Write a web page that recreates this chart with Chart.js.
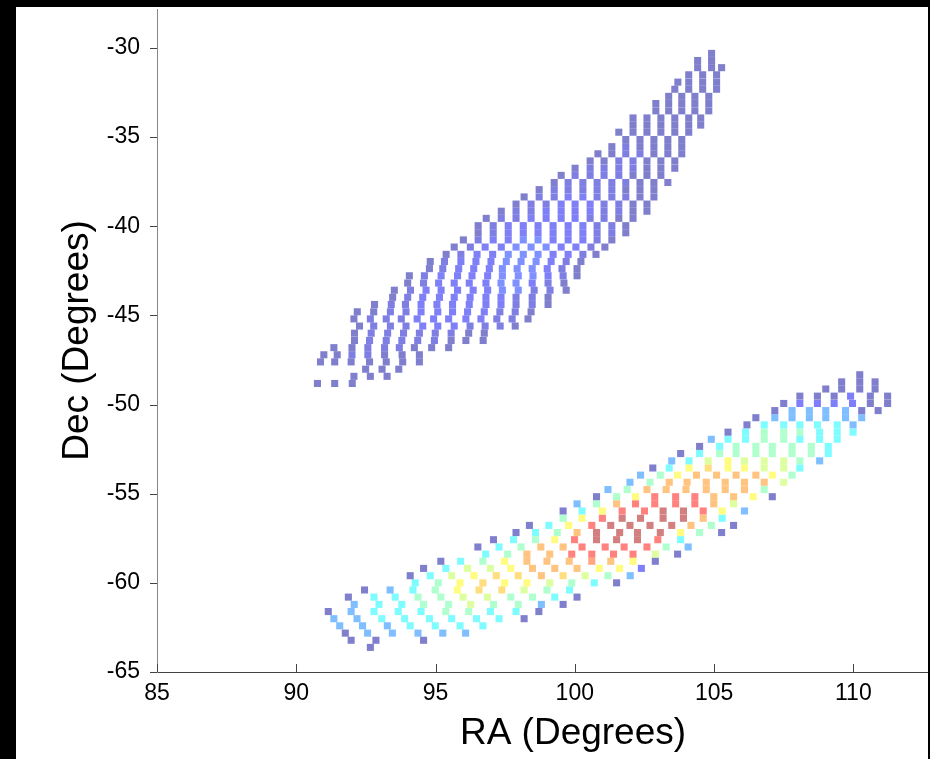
<!DOCTYPE html>
<html><head><meta charset="utf-8">
<script src="https://cdn.jsdelivr.net/npm/chart.js@4.4.1/dist/chart.umd.min.js"></script>
<style>html,body{margin:0;padding:0;background:#000;overflow:hidden;width:930px;height:759px}canvas{display:block}</style>
</head><body><canvas id="c" width="994" height="759"></canvas>
<script>
// ---- tick labels ----
const xTicks=[85,90,95,100,105,110];
const yTicks=[-65,-60,-55,-50,-45,-40,-35,-30];
const xTitle='RA (Degrees)';
const yTitle='Dec (Degrees)';

// ---- lower field (rows of constant Dec) ----
const botDec=[-63.62,-63.22,-62.82,-62.41,-62.01,-61.61,-61.21,-60.80,-60.40,-60.00,-59.60,-59.19,-58.79,-58.39,-57.99,-57.58,-57.18,-56.78,-56.38,-55.97,-55.57,-55.17,-54.77,-54.36,-53.96,-53.56,-53.16,-52.75,-52.35,-51.95,-51.55,-51.14,-50.74,-50.34,-49.94,-49.53,-49.13,-48.73,-48.33];
const botRA=[
[92.66],
[91.97,92.86,94.57],
[91.76,92.56,93.45,94.37,95.26,96.08],
[91.56,92.38,93.27,94.09,94.99,95.88,96.70],
[91.35,92.18,93.07,93.89,94.78,95.58,96.47,97.28,98.18],
[91.15,91.97,92.79,93.66,94.48,95.37,96.19,96.97,97.89,98.71],
[92.08,92.97,93.79,94.57,95.47,96.26,97.08,97.97,98.80,99.58],
[91.87,92.79,93.55,94.37,95.19,95.99,96.86,97.70,98.48,99.28,100.08],
[92.45,93.37,94.19,94.99,95.78,96.56,97.38,98.18,99.00,99.81],
[94.27,95.10,95.88,96.70,97.48,98.28,99.10,99.89,100.70,101.50],
[94.09,94.81,95.58,96.38,97.18,97.97,98.80,99.58,100.37,101.19,101.99],
[94.57,95.37,96.15,96.97,97.70,98.48,99.28,100.08,100.88,101.61,102.39],
[95.19,95.90,96.70,97.48,98.28,99.00,99.80,100.61,101.29,102.09,102.89],
[96.80,97.59,98.28,99.10,99.89,100.61,101.39,102.09,102.89,103.69],
[96.52,97.28,98.07,98.78,99.58,100.26,101.09,101.77,102.59,103.28,104.07],
[97.08,97.80,98.59,99.28,99.99,100.78,101.50,102.25,102.98,103.80],
[97.89,98.59,99.37,100.08,100.78,101.61,102.25,103.07,103.80,104.48,105.27],
[98.37,99.07,99.78,100.61,101.29,101.98,102.70,103.48,104.17,104.90,105.70],
[99.58,100.26,100.99,101.70,102.36,103.17,103.90,104.61,105.29],
[99.58,100.26,100.99,101.70,102.50,103.17,103.90,104.61,105.29,106.09],
[100.08,100.78,101.50,102.18,102.87,103.62,104.31,104.99,105.70],
[100.78,101.50,102.18,102.87,103.62,104.31,104.99,105.70,106.40,107.09],
[101.19,101.88,102.59,103.28,103.99,104.72,105.40,106.09,106.80],
[101.98,102.70,103.39,104.03,104.72,105.40,106.09,106.80,107.50],
[102.36,103.07,103.69,104.37,105.09,105.79,106.50,107.09,107.80],
[102.80,103.39,104.10,104.79,105.50,106.09,106.80,107.50,108.08],
[103.48,104.10,104.79,105.50,106.09,106.80,107.50,108.08,108.79],
[103.80,104.48,105.20,105.79,106.50,107.09,107.80,108.49,109.10],
[104.48,105.20,105.79,106.50,107.09,107.80,108.49,109.10],
[104.90,105.50,106.13,106.80,107.50,108.08,108.79,109.42],
[105.50,106.13,106.80,107.50,108.08,108.79,109.42,109.99],
[106.18,106.80,107.50,108.08,108.71,109.42,109.99],
[106.50,107.18,107.80,108.42,109.01,109.72,110.30],
[107.18,107.80,108.42,109.01,109.72,110.30,110.89],
[107.50,108.08,108.71,109.31,109.97,110.61,111.23],
[108.08,108.71,109.31,109.90,110.61,111.23],
[109.01,109.58,110.23,110.78],
[109.58,110.23,110.78],
[110.23]
];
const botVal=[
[0.03],
[0.03,0.03,0.03],
[0.03,0.25,0.25,0.25,0.25,0.25],
[0.25,0.25,0.25,0.37,0.37,0.37,0.37],
[0.25,0.25,0.37,0.37,0.37,0.37,0.37,0.37,0.03],
[0.03,0.25,0.37,0.37,0.37,0.47,0.47,0.37,0.37,0.03],
[0.25,0.37,0.37,0.47,0.47,0.56,0.47,0.47,0.25,0.03],
[0.03,0.37,0.37,0.47,0.47,0.56,0.56,0.47,0.47,0.37,0.03],
[0.03,0.25,0.37,0.47,0.63,0.69,0.69,0.56,0.47,0.37],
[0.37,0.47,0.63,0.69,0.63,0.63,0.56,0.47,0.37,0.03],
[0.03,0.37,0.56,0.63,0.69,0.69,0.74,0.69,0.56,0.47,0.25],
[0.03,0.37,0.56,0.56,0.63,0.74,0.74,0.74,0.63,0.63,0.12],
[0.03,0.37,0.47,0.63,0.74,0.74,0.74,0.80,0.74,0.63,0.03],
[0.37,0.47,0.74,0.74,0.87,0.87,0.87,0.87,0.56,0.03],
[0.03,0.37,0.47,0.74,0.74,0.87,0.87,0.87,0.87,0.47,0.25],
[0.03,0.37,0.47,0.63,0.87,0.96,0.96,0.96,0.87,0.37],
[0.03,0.37,0.47,0.74,0.96,0.96,0.96,0.96,0.63,0.47,0.03],
[0.03,0.37,0.63,0.87,0.96,0.96,0.96,0.96,0.74,0.47,0.03],
[0.47,0.63,0.87,0.96,0.96,0.96,0.96,0.74,0.37],
[0.03,0.37,0.63,0.87,0.87,0.96,0.96,0.87,0.63,0.25],
[0.25,0.47,0.74,0.87,0.87,0.87,0.87,0.74,0.56],
[0.03,0.47,0.63,0.87,0.87,0.87,0.74,0.74,0.63,0.03],
[0.25,0.47,0.74,0.74,0.74,0.74,0.74,0.74,0.47],
[0.25,0.47,0.74,0.74,0.74,0.74,0.74,0.74,0.56],
[0.25,0.47,0.63,0.74,0.74,0.74,0.74,0.63,0.47],
[0.03,0.37,0.63,0.69,0.63,0.63,0.56,0.56,0.37],
[0.25,0.37,0.56,0.63,0.56,0.56,0.56,0.47,0.25],
[0.03,0.37,0.47,0.47,0.47,0.47,0.47,0.47,0.37],
[0.03,0.37,0.47,0.47,0.47,0.47,0.47,0.37],
[0.25,0.37,0.37,0.47,0.47,0.37,0.37,0.37],
[0.03,0.37,0.47,0.47,0.47,0.37,0.37,0.37],
[0.03,0.37,0.37,0.37,0.37,0.37,0.25],
[0.03,0.25,0.25,0.25,0.25,0.25,0.25],
[0.03,0.25,0.25,0.25,0.25,0.03,0.03],
[0.03,0.12,0.12,0.12,0.12,0.03,0.03],
[0.03,0.03,0.03,0.12,0.03,0.03],
[0.03,0.03,0.03,0.03],
[0.03,0.03,0.03],
[0.03]
];

// ---- upper field ----
const topDec=[-48.82,-48.42,-48.02,-47.61,-47.21,-46.81,-46.41,-46.00,-45.60,-45.20,-44.80,-44.39,-43.99,-43.59,-43.19,-42.78,-42.38,-41.98,-41.58,-41.17,-40.77,-40.37,-39.97,-39.56,-39.16,-38.76,-38.36,-37.95,-37.55,-37.15,-36.75,-36.34,-35.94,-35.54,-35.14,-34.73,-34.33,-33.93,-33.53,-33.12,-32.72,-32.32,-31.92,-31.51,-31.11,-30.71,-30.31];
const topRA=[
[90.76,91.38,92.01],
[92.07,92.66,93.26],
[92.49,93.08,93.68],
[90.87,91.38,91.97,92.63,93.23,93.82,94.42],
[90.99,91.47,92.00,92.57,93.17,93.80,94.42],
[91.35,92.00,92.57,93.17,93.70,94.24,94.86,95.47],
[92.09,92.63,93.23,93.79,94.36,94.96,95.56,96.09,96.71],
[92.09,92.69,93.28,93.85,94.42,94.99,95.56,96.19,96.75],
[92.27,92.78,93.38,93.94,94.54,95.08,95.67,96.24,96.78,97.32,97.86],
[92.07,92.66,93.23,93.77,94.34,94.93,95.47,96.09,96.63,97.20,97.75,98.32],
[92.19,92.78,93.38,93.94,94.48,95.08,95.61,96.15,96.75,97.31,97.86,98.43],
[92.81,93.41,93.92,94.48,95.05,95.61,96.21,96.81,97.35,97.89,98.47,99.04],
[93.46,94.00,94.54,95.14,95.67,96.24,96.81,97.35,97.89,98.47,99.04],
[93.52,94.10,94.66,95.20,95.79,96.35,96.87,97.40,97.97,98.54,99.11,99.69],
[94.00,94.57,95.11,95.67,96.21,96.81,97.35,97.89,98.47,99.04,99.61],
[94.06,94.60,95.20,95.79,96.31,96.87,97.40,97.97,98.50,99.04,99.58,100.08],
[94.78,95.26,95.83,96.37,96.93,97.40,97.93,98.47,99.01,99.54,100.08],
[94.81,95.32,95.91,96.45,96.99,97.54,98.07,98.61,99.15,99.69,100.22],
[95.38,95.91,96.49,97.05,97.61,98.15,98.68,99.22,99.76,100.29,100.76],
[95.67,96.25,96.78,97.36,97.89,98.43,98.97,99.51,100.04,100.58,101.08],
[96.00,96.53,97.07,97.61,98.15,98.68,99.22,99.76,100.29,100.80,101.33],
[96.53,97.07,97.61,98.15,98.68,99.22,99.76,100.29,100.80,101.33,101.83],
[96.53,97.07,97.61,98.15,98.68,99.22,99.76,100.29,100.80,101.33,101.83],
[96.82,97.36,97.89,98.43,98.97,99.51,100.01,100.55,101.05,101.58,102.09],
[97.36,97.89,98.43,98.97,99.51,100.01,100.55,101.05,101.58,102.09,102.59],
[97.89,98.43,98.97,99.51,100.01,100.55,101.05,101.58,102.09,102.59],
[98.18,98.72,99.26,99.76,100.29,100.80,101.33,101.83,102.34,102.84],
[98.72,99.26,99.76,100.29,100.80,101.33,101.83,102.34,102.84],
[99.26,99.76,100.29,100.80,101.33,101.83,102.34,102.84,103.34],
[99.51,100.01,100.55,101.05,101.58,102.09,102.59,103.09],
[100.01,100.55,101.05,101.58,102.09,102.59,103.09,103.59],
[100.55,101.05,101.58,102.09,102.59,103.09,103.59],
[100.83,101.33,101.83,102.34,102.84,103.34,103.84],
[101.33,101.83,102.34,102.84,103.34,103.84],
[101.83,102.34,102.84,103.34,103.84],
[101.58,102.09,102.59,103.09,103.59,104.09],
[102.09,102.59,103.09,103.59,104.09,104.52],
[102.09,102.59,103.09,103.59,104.09,104.52],
[102.91,103.37,103.84,104.31,104.81],
[102.91,103.37,103.84,104.31,104.81],
[103.37,103.84,104.31,104.81],
[103.59,104.09,104.59,105.09],
[103.70,104.09,104.59,105.09],
[104.09,104.59,105.09],
[104.41,104.91,105.27],
[104.41,104.91],
[104.91]
];
const topVal=[
[0.03,0.03,0.03],
[0.03,0.03,0.03],
[0.03,0.03,0.03],
[0.03,0.03,0.03,0.03,0.03,0.03,0.03],
[0.03,0.03,0.07,0.07,0.03,0.03,0.03],
[0.03,0.03,0.07,0.07,0.07,0.03,0.03,0.03],
[0.03,0.07,0.07,0.07,0.07,0.07,0.03,0.03,0.03],
[0.03,0.07,0.07,0.07,0.07,0.07,0.07,0.03,0.03],
[0.03,0.07,0.07,0.07,0.11,0.11,0.11,0.07,0.07,0.07,0.03],
[0.03,0.07,0.07,0.07,0.11,0.11,0.11,0.11,0.11,0.07,0.07,0.03],
[0.03,0.03,0.07,0.07,0.11,0.11,0.11,0.11,0.11,0.07,0.07,0.03],
[0.03,0.07,0.07,0.11,0.11,0.11,0.11,0.11,0.11,0.07,0.07,0.03],
[0.03,0.07,0.11,0.11,0.11,0.11,0.11,0.11,0.07,0.07,0.03],
[0.03,0.07,0.11,0.11,0.11,0.11,0.11,0.16,0.16,0.07,0.07,0.03],
[0.03,0.07,0.11,0.11,0.11,0.11,0.16,0.16,0.11,0.07,0.03],
[0.03,0.07,0.11,0.11,0.11,0.11,0.16,0.16,0.16,0.11,0.07,0.03],
[0.03,0.07,0.11,0.11,0.11,0.16,0.16,0.16,0.11,0.07,0.03],
[0.03,0.07,0.11,0.11,0.11,0.16,0.16,0.16,0.11,0.07,0.03],
[0.03,0.07,0.11,0.11,0.16,0.16,0.16,0.11,0.11,0.07,0.03],
[0.03,0.07,0.11,0.11,0.16,0.16,0.16,0.11,0.11,0.07,0.03],
[0.03,0.07,0.11,0.11,0.16,0.16,0.11,0.11,0.11,0.07,0.03],
[0.03,0.07,0.11,0.11,0.11,0.11,0.11,0.11,0.07,0.07,0.03],
[0.03,0.07,0.11,0.11,0.11,0.11,0.11,0.11,0.07,0.07,0.03],
[0.03,0.07,0.07,0.11,0.11,0.11,0.11,0.07,0.07,0.03,0.03],
[0.03,0.07,0.07,0.11,0.11,0.11,0.11,0.07,0.07,0.03,0.03],
[0.03,0.07,0.07,0.11,0.11,0.11,0.07,0.07,0.03,0.03],
[0.03,0.07,0.07,0.11,0.11,0.07,0.07,0.07,0.03,0.03],
[0.03,0.07,0.07,0.07,0.07,0.07,0.03,0.03,0.03],
[0.03,0.07,0.07,0.07,0.07,0.07,0.03,0.03,0.03],
[0.03,0.07,0.07,0.07,0.07,0.03,0.03,0.03],
[0.03,0.07,0.07,0.07,0.07,0.03,0.03,0.03],
[0.03,0.03,0.07,0.07,0.03,0.03,0.03],
[0.03,0.03,0.07,0.07,0.03,0.03,0.03],
[0.03,0.07,0.03,0.03,0.03,0.03],
[0.03,0.03,0.03,0.03,0.03],
[0.03,0.03,0.03,0.03,0.03,0.03],
[0.03,0.03,0.03,0.03,0.03,0.03],
[0.03,0.03,0.03,0.03,0.03,0.03],
[0.03,0.03,0.03,0.03,0.03],
[0.03,0.03,0.03,0.03,0.03],
[0.03,0.03,0.03,0.03],
[0.03,0.03,0.03,0.03],
[0.03,0.03,0.03,0.03],
[0.03,0.03,0.03],
[0.03,0.03,0.03],
[0.03,0.03],
[0.03]
];

// ---- styling helpers ----
function jet(v,a){
  const c=t=>Math.max(0,Math.min(1,t));
  const r=c(1.5-Math.abs(4*v-3)),g=c(1.5-Math.abs(4*v-2)),b=c(1.5-Math.abs(4*v-1));
  return 'rgba('+Math.round(r*255)+','+Math.round(g*255)+','+Math.round(b*255)+','+a+')';
}
function build(decs,ras,vals){
  const pts=[],cols=[];
  decs.forEach((d,i)=>{ras[i].forEach((r,k)=>{pts.push({x:r,y:d});cols.push(jet(vals[i][k]!==undefined?vals[i][k]:0.03,0.5));});});
  return {pts,cols};
}
const T=build(topDec,topRA,topVal), B=build(botDec,botRA,botVal);
const FONT="'Liberation Sans', Arial, Helvetica, sans-serif";
const FIG_R=928;

const frame={id:'frame',
  beforeDraw(ch){const c=ch.ctx;c.save();c.fillStyle='#000';c.fillRect(0,0,ch.width,ch.height);c.fillStyle='#fff';c.fillRect(16,7,FIG_R-16,ch.height-7);c.restore();},
  afterDraw(ch){const c=ch.ctx,xs=ch.scales.x,ys=ch.scales.y,a=ch.chartArea;c.save();c.strokeStyle='#444';c.lineWidth=1;c.beginPath();
    xTicks.forEach(v=>{const p=Math.round(xs.getPixelForValue(v))+0.5;c.moveTo(p,a.bottom);c.lineTo(p,a.bottom-8);});
    yTicks.forEach(v=>{const p=Math.round(ys.getPixelForValue(v))+0.5;c.moveTo(a.left,p);c.lineTo(a.left-7,p);});
    c.stroke();
    c.fillStyle='#000';c.fillRect(FIG_R,0,ch.width-FIG_R,ch.height);
    c.restore();}
};

new Chart(document.getElementById('c'),{
  type:'scatter',
  data:{datasets:[
    {data:B.pts,backgroundColor:B.cols,borderWidth:0,pointStyle:'rect',pointRadius:5,pointHoverRadius:5},
    {data:T.pts,backgroundColor:T.cols,borderWidth:0,pointStyle:'rect',pointRadius:5,pointHoverRadius:5}
  ]},
  options:{
    responsive:false,animation:false,devicePixelRatio:1,
    layout:{padding:{left:16,top:9,right:3,bottom:0}},
    plugins:{legend:{display:false},tooltip:{enabled:false}},
    events:[],
    scales:{
      x:{type:'linear',min:85,max:114.87,
        afterFit(s){s.height=87;s.paddingLeft=0;s.paddingRight=0;},
        afterBuildTicks(s){s.ticks=xTicks.map(v=>({value:v}));},
        grid:{display:false,drawTicks:false},
        border:{display:true,color:'#444',width:1},
        ticks:{color:'#000',font:{family:FONT,size:23},padding:8,maxRotation:0,autoSkip:false},
        title:{display:true,text:xTitle,color:'#000',font:{family:FONT,size:37},padding:{top:0,bottom:3}}
      },
      y:{type:'linear',min:-65,max:-27.82,
        afterFit(s){s.width=141;s.paddingTop=0;s.paddingBottom=0;},
        afterBuildTicks(s){s.ticks=yTicks.map(v=>({value:v}));},
        grid:{display:false,drawTicks:false},
        border:{display:true,color:'#888',width:1},
        ticks:{color:'#000',font:{family:FONT,size:23},padding:17,autoSkip:false},
        title:{display:true,text:yTitle,color:'#000',font:{family:FONT,size:37},padding:{top:40,bottom:0}}
      }
    }
  },
  plugins:[frame]
});
</script>
</body></html>
